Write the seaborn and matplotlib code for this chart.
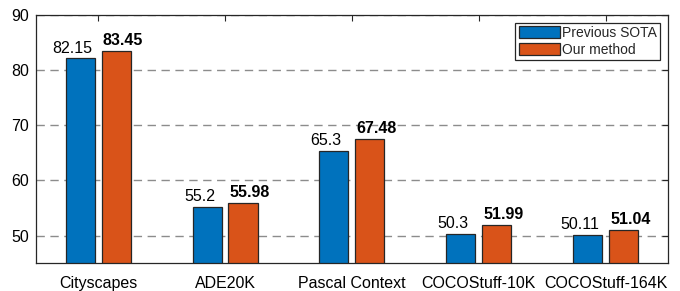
import pandas as pd
import seaborn as sns
import matplotlib.pyplot as plt

# data
datasets = ['Cityscapes', 'ADE20K', 'Pascal Context', 'COCOStuff-10K', 'COCOStuff-164K']
previous_sota = [82.15, 55.2, 65.3, 50.3, 50.11]
our_method = [83.45, 55.98, 67.48, 51.99, 51.04]
prev_labels = ['82.15', '55.2', '65.3', '50.3', '50.11']
ours_labels = ['83.45', '55.98', '67.48', '51.99', '51.04']
methods = ['Previous SOTA', 'Our method']

data = pd.DataFrame({
    'Dataset': datasets * 2,
    'Method': [methods[0]] * len(datasets) + [methods[1]] * len(datasets),
    'mIoU': previous_sota + our_method,
})

sns.set_style('white')
plt.rcParams['font.family'] = ['Liberation Sans', 'DejaVu Sans']

fig = plt.figure(figsize=(6.8, 2.91), dpi=100)
ax = fig.add_axes([0.053, 0.096, 0.929, 0.852])

ax.set_axisbelow(True)
ax.yaxis.grid(True, color='#8c8c8c', linestyle=(0, (6, 4)), linewidth=1)

sns.barplot(data=data, x='Dataset', y='mIoU', hue='Method', hue_order=methods,
            palette=['#0072BD', '#D95319'], width=0.567, gap=0.19,
            edgecolor='#262626', linewidth=0.9, saturation=1, errorbar=None, ax=ax)

# value labels: previous normal (shifted left), ours bold (shifted right)
for cont, labels, weight, dx in zip(ax.containers, [prev_labels, ours_labels],
                                    ['normal', 'bold'], [-5.5, 5]):
    anns = ax.bar_label(cont, labels=labels, padding=2, fontsize=11.5,
                        fontweight=weight, color='black')
    for a in anns:
        a.xyann = (dx, 2)

ax.set_ylim(45, 90)
ax.set_xlim(-0.49, 4.49)
ax.set_yticks([50, 60, 70, 80, 90])
ax.set_xlabel('')
ax.set_ylabel('')

ax.tick_params(axis='both', direction='in', labelsize=11.5, length=4, width=0.8,
               top=True, right=True, colors='#262626', labelcolor='black')
ax.tick_params(axis='x', pad=9)
ax.tick_params(axis='y', pad=5)
for s in ax.spines.values():
    s.set_visible(True)
    s.set_color('#262626')
    s.set_linewidth(0.9)

leg = ax.legend(loc='upper right', fontsize=10, fancybox=False, framealpha=1,
                edgecolor='#262626', borderpad=0.25, handlelength=2.95, handleheight=0.95,
                handletextpad=0.15, labelspacing=0.2, borderaxespad=0.55)
leg.get_frame().set_linewidth(0.9)

fig.savefig('out.png', dpi=100)
